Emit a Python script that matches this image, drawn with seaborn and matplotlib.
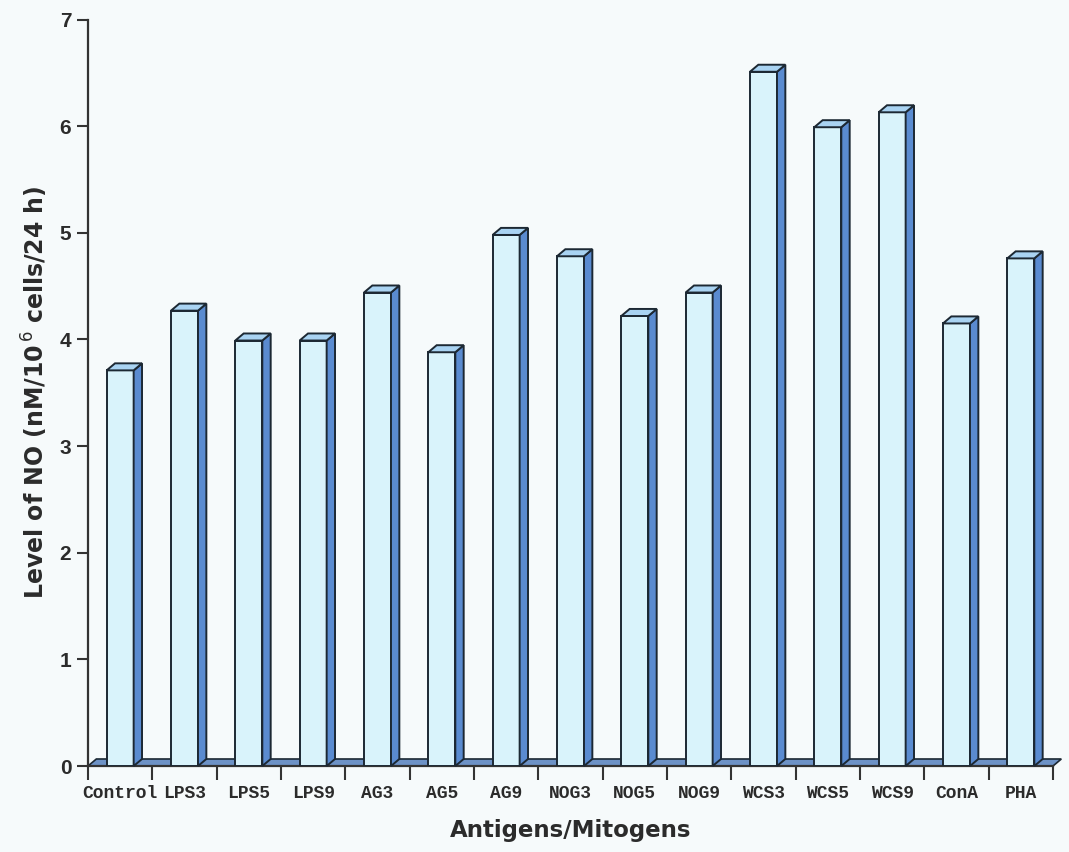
import matplotlib
matplotlib.use("Agg")
import matplotlib.pyplot as plt
from matplotlib.patches import Polygon
from matplotlib.ticker import FixedLocator
import seaborn as sns
import pandas as pd
import numpy as np

# NO production per stimulant
categories = ["Control", "LPS3", "LPS5", "LPS9", "AG3", "AG5", "AG9",
              "NOG3", "NOG5", "NOG9", "WCS3", "WCS5", "WCS9", "ConA", "PHA"]
no_levels = [3.71, 4.27, 3.99, 3.99, 4.44, 3.88, 4.98,
             4.78, 4.22, 4.44, 6.51, 5.99, 6.13, 4.15, 4.76]
y_ticks = [0, 1, 2, 3, 4, 5, 6, 7]

BG = "#f6fafb"
FRONT = "#d9f3fb"
SIDE = "#5a8bd0"
TOP = "#a9d3f2"
EDGE = "#1c2833"
TEXT = "#2b2b2b"

sns.set_theme(style="white")
plt.rcParams["font.family"] = ["Liberation Sans", "DejaVu Sans"]

fig = plt.figure(figsize=(10.69, 8.52), dpi=100, facecolor=BG)
ax = fig.add_axes([0.0823, 0.1009, 0.9027, 0.8762], facecolor=BG)

df = pd.DataFrame({"stimulant": categories, "no": no_levels})
sns.barplot(data=df, x="stimulant", y="no", order=categories, width=0.42,
            color=FRONT, saturation=1, edgecolor=EDGE, linewidth=1.4,
            ax=ax, zorder=3)

ax.set_xlim(-0.5, len(categories) - 0.5)
ax.set_ylim(0, 7)

# pseudo-3D depth in data units
dx, dy = 0.13, 0.066

# floor slab along the category axis
floor = Polygon([(-0.5, 0), (len(categories) - 0.5, 0),
                 (len(categories) - 0.5 + dx, dy), (-0.5 + dx, dy)],
                closed=True, facecolor="#6d92c6", edgecolor=EDGE,
                linewidth=1.2, zorder=2, clip_on=False)
ax.add_patch(floor)

for p in list(ax.patches):
    if p is floor:
        continue
    x0 = p.get_x()
    w = p.get_width()
    h = p.get_height()
    x1 = x0 + w
    side = Polygon([(x1, 0), (x1 + dx, dy), (x1 + dx, h + dy), (x1, h)],
                   closed=True, facecolor=SIDE, edgecolor=EDGE,
                   linewidth=1.4, zorder=3, clip_on=False)
    top = Polygon([(x0, h), (x0 + dx, h + dy), (x1 + dx, h + dy), (x1, h)],
                  closed=True, facecolor=TOP, edgecolor=EDGE,
                  linewidth=1.4, zorder=3, clip_on=False)
    ax.add_patch(side)
    ax.add_patch(top)

# axes styling
for s in ["top", "right"]:
    ax.spines[s].set_visible(False)
for s in ["left", "bottom"]:
    ax.spines[s].set_color("#333333")
    ax.spines[s].set_linewidth(1.6)

ax.set_yticks(y_ticks)
ax.set_yticklabels([str(t) for t in y_ticks], fontsize=15, fontweight="bold",
                   color=TEXT)
ax.tick_params(axis="y", direction="out", length=8, width=1.5,
               color="#333333", pad=4, left=True)

ax.set_xticks(range(len(categories)))
ax.set_xticklabels(categories, fontsize=13, fontweight="bold", color=TEXT,
                   family="Liberation Mono")
ax.tick_params(axis="x", which="major", length=0, pad=14)
ax.xaxis.set_minor_locator(FixedLocator(np.arange(-0.5, len(categories), 1.0)))
ax.tick_params(axis="x", which="minor", direction="out", length=10,
               width=1.5, color="#333333", bottom=True)

ax.set_xlabel("Antigens/Mitogens", fontsize=16.5, fontweight="bold",
              color=TEXT, labelpad=12, family=["DejaVu Sans"])
ax.set_ylabel("Level of NO (nM/10$^{\\,6}$ cells/24 h)", fontsize=17,
              fontweight="bold", color=TEXT, labelpad=7,
              family=["DejaVu Sans"])
ax.grid(False)

fig.savefig("out.png", dpi=100, facecolor=BG)
